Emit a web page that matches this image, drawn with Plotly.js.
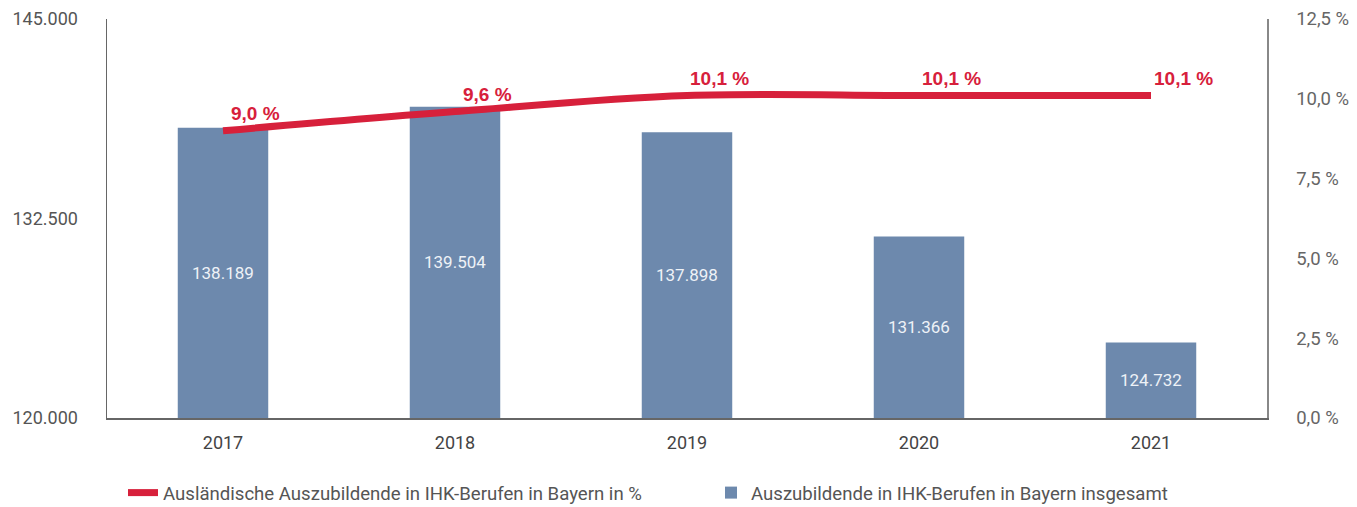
<!DOCTYPE html>
<html><head><meta charset="utf-8">
<script src="https://cdn.plot.ly/plotly-3.0.1.min.js"></script>
<style>html,body{margin:0;padding:0;background:#fff}#chart{width:1357px;height:507px}</style>
</head><body><div id="chart"></div>
<script>
const years = ['2017','2018','2019','2020','2021'];
const totals = [138189, 139504, 137898, 131366, 124732];
const totalLabels = ['138.189','139.504','137.898','131.366','124.732'];
const shares = [9.0, 9.6, 10.1, 10.1, 10.1];
const shareLabels = ['9,0 %','9,6 %','10,1 %','10,1 %','10,1 %'];
const leftTicks = [120000, 132500, 145000];
const leftTickText = ['120.000','132.500','145.000'];
const rightTicks = [0, 2.5, 5, 7.5, 10, 12.5];
const rightTickText = ['0,0 %','2,5 %','5,0 %','7,5 %','10,0 %','12,5 %'];
const nameLine = 'Ausländische Auszubildende in IHK-Berufen in Bayern in %';
const nameBar = 'Auszubildende in IHK-Berufen in Bayern insgesamt';

const red = '#d7203b', blue = '#6d89ad', grey = '#555';
const yMin = leftTicks[0];

const traces = [
  {type:'scatter', mode:'lines', x:years, y:shares, yaxis:'y2', name:nameLine, legend:'legend',
   line:{color:red, width:7, shape:'spline', smoothing:1}, hoverinfo:'skip'},
  {type:'bar', x:years, y:totals, name:nameBar, legend:'legend2', marker:{color:blue}, width:0.39,
   hoverinfo:'skip'}
];

const lineAnn = years.map((y,i)=>({
  x:i, y:shares[i], xref:'x', yref:'y2', text:'<b>'+shareLabels[i]+'</b>', showarrow:false,
  xshift:32, yshift:17, font:{color:red, size:19, family:'Liberation Sans, Arial, sans-serif'}
}));
const barAnn = years.map((y,i)=>({
  x:i, y:(totals[i]+yMin)/2, xref:'x', yref:'y', text:totalLabels[i], showarrow:false,
  font:{color:'#eef2f7', size:17, family:'Roboto, sans-serif'}
}));

const legFont = {family:'Roboto, sans-serif', size:18.6, color:'#555'};
const layout = {
  width:1357, height:507,
  margin:{l:107, r:90, t:19, b:89, pad:0, autoexpand:false},
  paper_bgcolor:'#fff', plot_bgcolor:'#fff',
  font:{family:'Roboto, sans-serif', color:grey, size:17},
  showlegend:true,
  legend:{orientation:'h', x:0.0138, xanchor:'left', y:-0.188, yanchor:'middle', itemwidth:30, font:legFont},
  legend2:{orientation:'h', x:0.5207, xanchor:'left', y:-0.188, yanchor:'middle', itemwidth:30, font:legFont},
  xaxis:{type:'category', range:[-0.5,4.5], showline:true, linecolor:'#666', linewidth:1.5,
    ticks:'', showgrid:false, zeroline:false, ticklabelstandoff:8, tickfont:{size:18, color:'#444'}},
  yaxis:{range:[yMin,145000], tickvals:leftTicks, ticktext:leftTickText, showline:true,
    linecolor:'#666', linewidth:1.5, showgrid:false, zeroline:false, ticks:'',
    ticklabelstandoff:24, tickfont:{size:18, color:'#555'}},
  yaxis2:{range:[0,12.5], tickvals:rightTicks, ticktext:rightTickText, overlaying:'y', side:'right',
    showline:true, linecolor:'#888', linewidth:1.5, showgrid:false, zeroline:false, ticks:'',
    ticklabelstandoff:24, tickfont:{size:18.5, color:'#666'}},
  annotations:lineAnn.concat(barAnn)
};
Plotly.newPlot('chart', traces, layout, {displayModeBar:false, staticPlot:true});
</script></body></html>
